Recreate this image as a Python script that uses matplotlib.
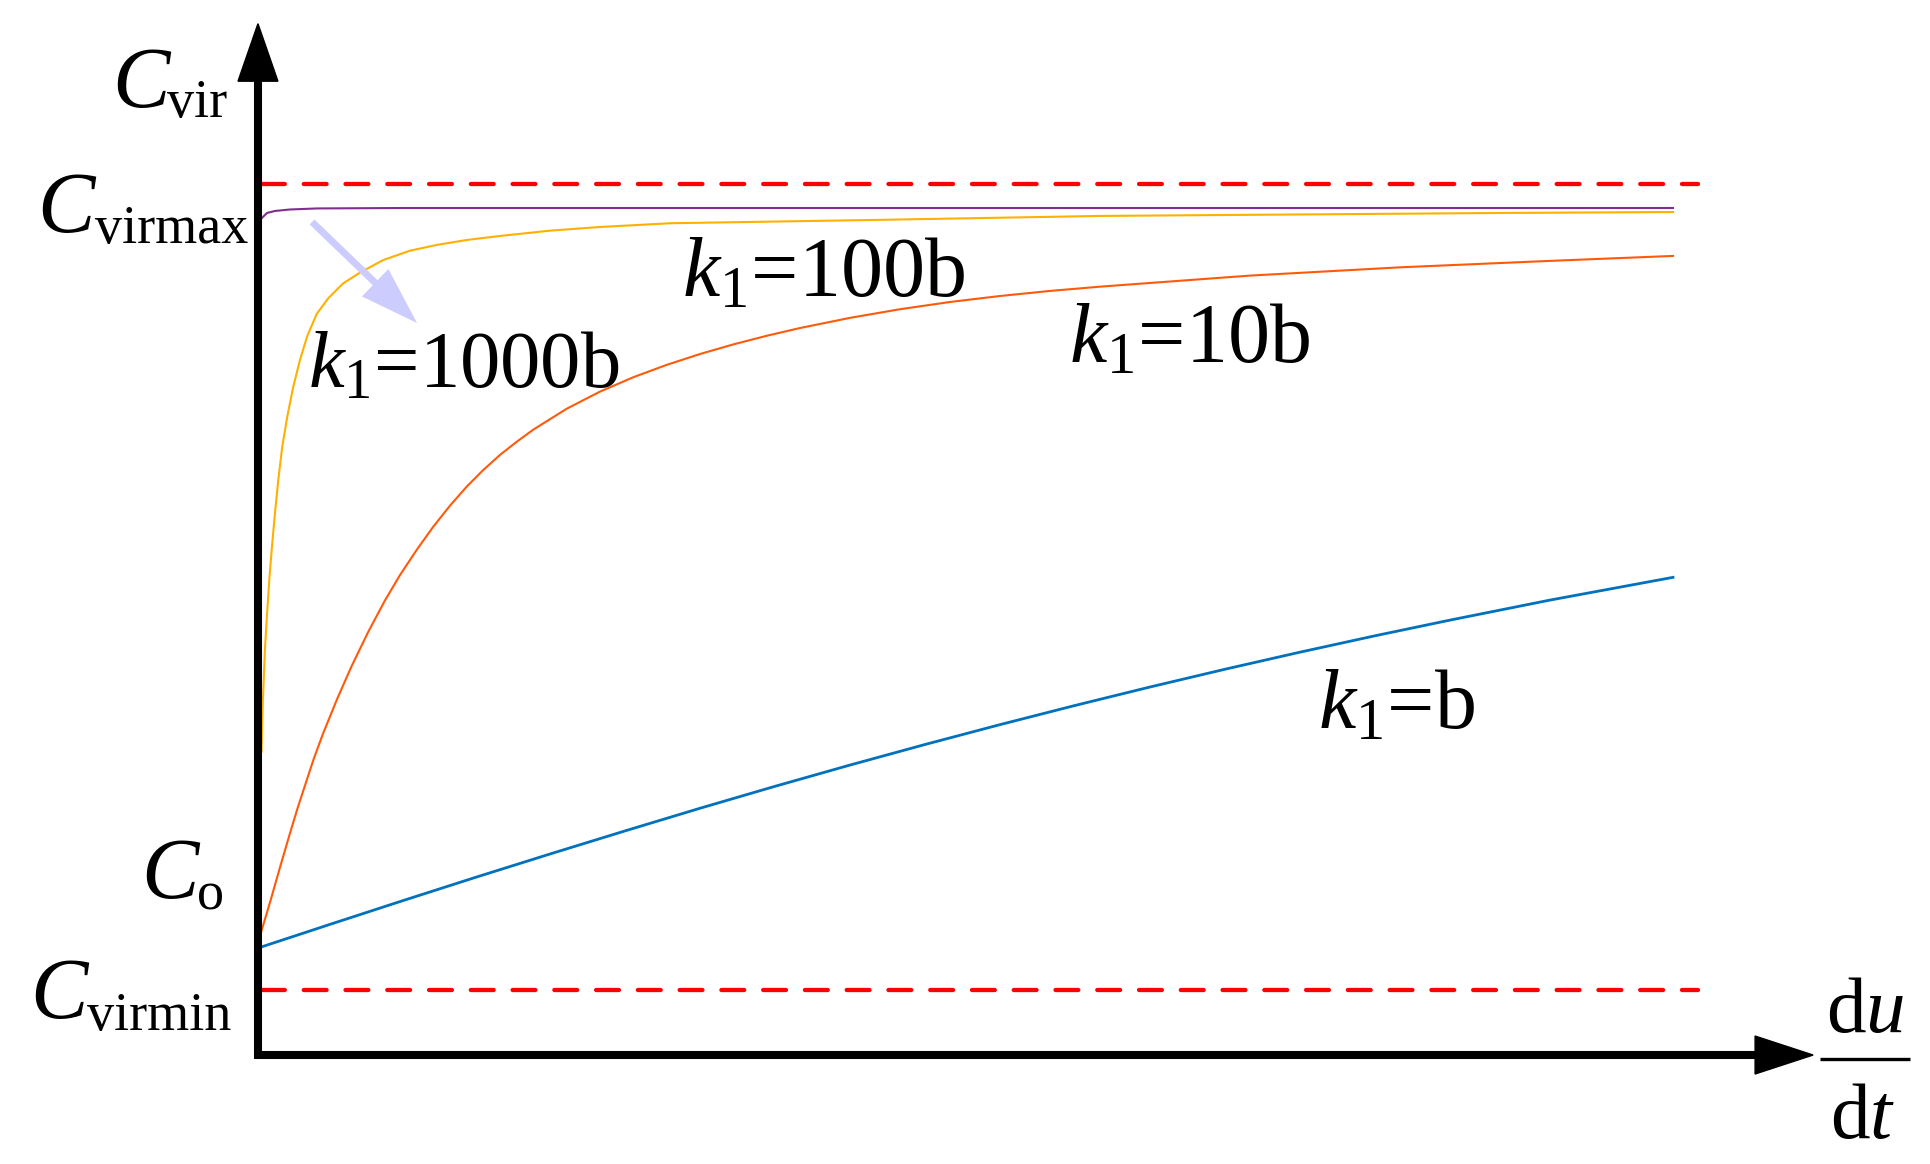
import matplotlib
matplotlib.use('Agg')
import matplotlib.pyplot as plt

# curves: x = du/dt (0..100), y = C_vir (C_virmax = 100)
x_b = [0, 5.09, 10.04, 15.34, 20.64, 25.94, 31.24, 36.54, 41.84, 47.14, 52.44,
       57.74, 63.04, 68.34, 73.64, 78.94, 84.24, 91.31, 100]
y_b = [12.28, 15.00, 17.62, 20.38, 23.08, 25.73, 28.33, 30.85, 33.29, 35.65, 37.93,
       40.13, 42.25, 44.29, 46.25, 48.13, 49.93, 52.23, 54.84]

x_10b = [0, 0.90, 1.55, 2.26, 2.81, 3.91, 4.57, 5.60, 6.62, 7.79, 8.97, 10.04,
         11.22, 12.39, 13.57, 14.75, 15.92, 17.10, 18.28, 19.46, 21.82, 24.17,
         26.52, 28.88, 31.24, 33.59, 35.95, 38.30, 41.84, 45.37, 48.90, 52.44,
         55.97, 59.50, 70.10, 80.70, 91.31, 100]
y_10b = [12.90, 17.80, 21.51, 25.45, 28.40, 33.85, 36.78, 40.90, 44.65, 48.57,
         52.17, 55.11, 58.00, 60.66, 63.07, 65.25, 67.16, 68.89, 70.40, 71.80,
         74.20, 76.16, 77.81, 79.23, 80.48, 81.58, 82.57, 83.46, 84.63, 85.62,
         86.45, 87.14, 87.72, 88.21, 89.48, 90.43, 91.17, 91.74]

x_100b = [0.25, 0.35, 0.49, 0.615, 0.799, 0.989, 1.201, 1.435, 1.717, 2.071, 2.495,
          2.968, 3.484, 4.148, 4.968, 6.028, 7.208, 8.855, 10.74, 12.63, 14.75,
          17.10, 20.64, 24.17, 29.12, 43.6, 59.50, 87.77, 100]
y_100b = [34.79, 40.76, 46.50, 49.94, 54.54, 58.36, 62.19, 66.02, 69.84, 73.29,
          76.73, 79.79, 82.55, 85.07, 86.88, 88.60, 89.82, 91.27, 92.34, 93.00,
          93.57, 94.03, 94.64, 95.06, 95.49, 95.87, 96.33, 96.67, 96.78]

x_1000b = [0.28, 0.64, 1.20, 2.26, 4.17, 10.04, 100]
y_1000b = [96.10, 96.67, 96.90, 97.07, 97.19, 97.24, 97.24]

c_max = 100
c_min = 7.46
bound_x = [0.28, 101.8]

curve_labels = [r'$k_{1}$=1000b', r'$k_{1}$=100b', r'$k_{1}$=10b', r'$k_{1}$=b']
c_subs = ['vir', 'virmax', 'o', 'virmin']

plt.rcParams['font.family'] = 'Liberation Serif'
plt.rcParams['mathtext.fontset'] = 'custom'
plt.rcParams['mathtext.rm'] = 'Liberation Serif'
plt.rcParams['mathtext.it'] = 'Liberation Serif:italic'

fig = plt.figure(figsize=(19.3, 11.64), dpi=100)
ax = fig.add_axes([0, 0, 1, 1])
ax.set_xlim(-18.23, 118.16)
ax.set_ylim(-12.51, 121.12)
ax.axis('off')

# limits
ax.plot(bound_x, [c_max, c_max], color='red', lw=3.1, dashes=(5.3, 4.4),
        dash_capstyle='round', zorder=2)
ax.plot(bound_x, [c_min, c_min], color='red', lw=3.1, dashes=(5.3, 4.4),
        dash_capstyle='round', zorder=2)

# curves
ax.plot(x_b, y_b, color='#0072BD', lw=2.0, zorder=3)
ax.plot(x_10b, y_10b, color='#FF5A0A', lw=1.5, zorder=3)
ax.plot(x_100b, y_100b, color='#FFB000', lw=1.5, zorder=3)
ax.plot(x_1000b, y_1000b, color='#7E2F8E', lw=1.5, zorder=3)

# axes with arrows
ax.plot([0, 0], [-0.35, 112.0], color='k', lw=5.8, solid_capstyle='butt', zorder=5)
ax.fill([-1.41, 1.41, 0], [111.8, 111.8, 118.4], color='k', zorder=5)
ax.plot([-0.28, 105.9], [0, 0], color='k', lw=5.8, solid_capstyle='butt', zorder=5)
ax.fill([105.8, 105.8, 109.9], [-2.18, 2.18, 0], color='k', zorder=5)

# lavender pointer
ax.annotate('', xy=(11.24, 84.04), xytext=(3.82, 95.64),
            arrowprops=dict(arrowstyle='simple,head_length=4.18,head_width=2.74,tail_width=0.5',
                            color='#CCCCFF', lw=0, mutation_scale=10,
                            shrinkA=0, shrinkB=0), zorder=4)

# y-axis labels: italic C + upright subscript
c_pos = [(-10.32, 108.84, -6.45, 107.69),
         (-15.62, 94.49, -11.55, 93.23),
         (-8.27, 18.03, -4.30, 16.76),
         (-16.11, 4.25, -12.10, 2.87)]
for (cx, cy, sx, sy), sub in zip(c_pos, c_subs):
    ax.text(cx, cy, 'C', fontsize=62, style='italic', ha='left', va='baseline')
    ax.text(sx, sy, sub, fontsize=39, ha='left', va='baseline')

# curve labels
label_pos = [(3.53, 76.58), (29.96, 87.14), (57.31, 79.56), (74.91, 37.54)]
label_size = [58, 60.5, 60.5, 60.5]
for (lx, ly), lab, fs in zip(label_pos, curve_labels, label_size):
    ax.text(lx, ly, lab, fontsize=fs, ha='left', va='baseline')

# x-axis label du/dt
ax.text(113.57, 2.64, r'd$u$', fontsize=57, ha='center', va='baseline')
ax.plot([110.39, 116.75], [-0.46, -0.46], color='k', lw=2.4, solid_capstyle='butt')
ax.text(113.4, -9.53, r'd$t$', fontsize=57, ha='center', va='baseline')

fig.savefig('out.png', dpi=100)
